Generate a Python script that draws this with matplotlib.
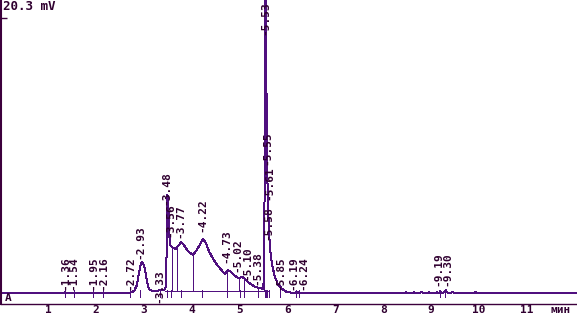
import numpy as np
import matplotlib
matplotlib.use("Agg")
import matplotlib.pyplot as plt

# trace: time (min) / signal (mV)
trace_t = [0.02, 1.25, 1.36, 1.40, 2.71, 2.80, 2.86, 2.90, 2.94, 2.96, 2.99,
           3.03, 3.07, 3.11, 3.17, 3.30, 3.38, 3.44, 3.47, 3.49, 3.51, 3.53,
           3.55, 3.59, 3.67, 3.72, 3.78, 3.84, 3.92, 4.03, 4.11, 4.18, 4.24,
           4.30, 4.36, 4.45, 4.55, 4.66, 4.70, 4.76, 4.82, 4.91, 4.97, 5.01,
           5.05, 5.09, 5.18, 5.26, 5.34, 5.43, 5.49, 5.51, 5.53, 5.535, 5.55,
           5.565, 5.58, 5.60, 5.62, 5.64, 5.68, 5.74, 5.80, 5.89, 5.99, 6.16,
           6.19, 6.21, 6.24, 6.26, 8.40, 8.48, 8.56, 8.64, 8.72, 8.80, 8.88,
           8.96, 9.04, 9.12, 9.17, 9.19, 9.22, 9.28, 9.31, 9.34, 9.45, 9.55,
           9.90, 9.93, 9.96, 12.05]
trace_mv = [0.0, 0.0, 0.04, 0.0, 0.0, 0.15, 0.59, 1.48, 2.14, 2.29, 2.21,
            1.70, 0.81, 0.30, 0.15, 0.18, 0.22, 0.26, 0.59, 7.23, 7.01, 4.50,
            3.54, 3.39, 3.25, 3.47, 3.76, 3.54, 3.10, 2.80, 3.17, 3.62, 3.99,
            3.69, 3.10, 2.51, 1.99, 1.55, 1.40, 1.70, 1.55, 1.25, 1.11, 1.11,
            1.18, 1.11, 0.81, 0.59, 0.44, 0.37, 0.30, 0.96, 10.5, 23.0, 23.0,
            14.0, 8.7, 6.0, 4.3, 3.2, 2.07, 1.18, 0.66, 0.30, 0.07, 0.0,
            0.12, 0.0, 0.08, 0.0, 0.0, 0.05, -0.03, 0.05, -0.03, 0.05, -0.03,
            0.05, -0.03, 0.05, 0.0, 0.12, 0.0, 0.05, 0.20, 0.02, 0.04, 0.0,
            0.0, 0.06, 0.0, 0.0]

# integrator peak marks
peak_names = ["1.36", "1.54", "1.95", "2.16", "2.72", "2.93", "3.33", "3.48",
              "3.56", "3.77", "4.22", "4.73", "5.02", "5.10", "5.38", "5.53",
              "5.55", "5.61", "5.58", "5.85", "6.19", "6.24", "9.19", "9.30"]
peak_t = [1.36, 1.54, 1.95, 2.16, 2.72, 2.93, 3.33, 3.48, 3.56, 3.77, 4.22,
          4.73, 5.02, 5.10, 5.38, 5.53, 5.55, 5.61, 5.58, 5.85, 6.19, 6.24,
          9.19, 9.30]
label_mv = [0.22, 0.22, 0.22, 0.22, 0.22, 2.51, -0.74, 6.49, 4.13, 4.06, 4.50,
            2.21, 1.55, 0.96, 0.59, 19.04, 9.45, 6.86, 3.91, 0.22, 0.22, 0.22,
            0.52, 0.52]
# where labels sit when two marks are crowded
label_t = [1.36, 1.54, 1.95, 2.16, 2.72, 2.93, 3.33, 3.48, 3.56, 3.77, 4.22,
           4.73, 4.96, 5.16, 5.38, 5.53, 5.58, 5.63, 5.60, 5.85, 6.13, 6.34,
           9.16, 9.34]

# drop lines between unresolved peaks
drop_t = [3.59, 3.70, 4.03, 4.73, 4.99, 5.09, 5.38, 5.52]
base_segments = [(3.45, 5.62)]

axis_col = "#3c003c"
line_col = "#50107f"
text_col = "#300030"
mono = ["DejaVu Sans Mono"]
lw = 0.72

fig = plt.figure(figsize=(5.77, 3.16), dpi=100)
ax = fig.add_axes([1 / 577, 12 / 316, 576 / 577, 304 / 316])

ax.plot(trace_t, trace_mv, color=line_col, lw=lw, antialiased=False)

tops = np.interp(drop_t, trace_t, trace_mv)
ax.vlines(drop_t, 0.12, tops, color=line_col, lw=lw, antialiased=False)
for a, b in base_segments:
    ax.plot([a, b], [0.12, 0.12], color=line_col, lw=lw, antialiased=False)

ax.vlines(peak_t, -0.3, 0.2, color=line_col, lw=lw, antialiased=False)
for name, t, y in zip(peak_names, label_t, label_mv):
    ax.text(t, y, "-" + name, rotation=90, ha="center", va="bottom",
            fontsize=8, family=mono, weight="bold", color=text_col,
            clip_on=True)

ax.set_xlim(0.021, 12.046)
ax.set_ylim(-0.812, 21.62)

for s in ["top", "right"]:
    ax.spines[s].set_visible(False)
ax.spines["left"].set_color(axis_col)
ax.spines["left"].set_linewidth(1.5)
ax.spines["bottom"].set_color(axis_col)
ax.spines["bottom"].set_linewidth(1.0)

ax.set_xticks(range(1, 12))
ax.set_xticklabels([str(i) for i in range(1, 12)], family=mono,
                   weight="bold", fontsize=8, color=text_col)
ax.tick_params(axis="x", length=0, pad=0.5)
ax.set_yticks([20.3])
ax.set_yticklabels([""])
ax.tick_params(axis="y", direction="in", length=4, width=1, color=axis_col)

fig.text(3 / 577, 1 - 7 / 316, "20.3 mV", ha="left", va="center",
         fontsize=9, family=mono, weight="bold", color=text_col)
fig.text(8 / 577, 1 - 298 / 316, "A", ha="center", va="center",
         fontsize=8, family=mono, weight="bold", color=text_col)
fig.text(561 / 577, 1 - 310 / 316, "мин", ha="center", va="center",
         fontsize=8, family=mono, weight="bold", color=text_col)

fig.savefig("out.png", dpi=100)
